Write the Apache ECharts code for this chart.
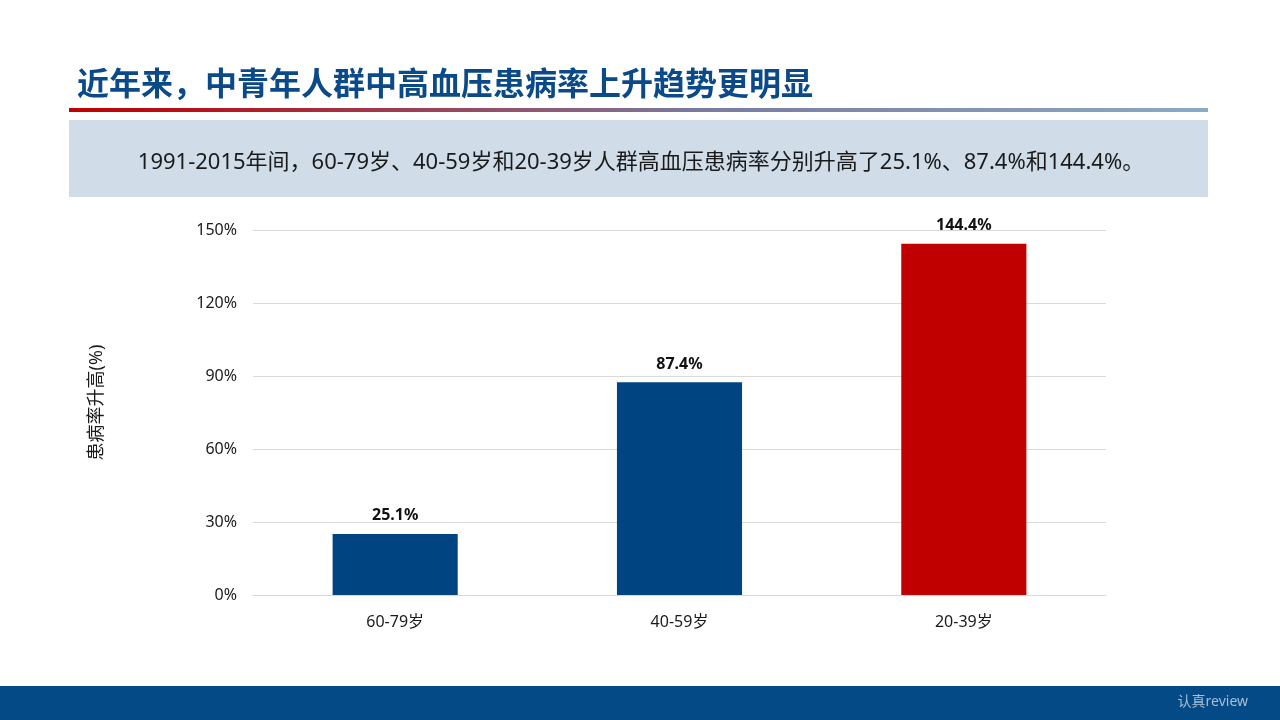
<!DOCTYPE html>
<html>
<head>
<meta charset="utf-8">
<script src="https://cdn.jsdelivr.net/npm/echarts@6/dist/echarts.min.js"></script>
<style>
html, body { margin: 0; padding: 0; background: #fff; }
#main { width: 1280px; height: 720px; }
</style>
</head>
<body>
<div id="main"></div>
<script>
var categories = ['60-79岁', '40-59岁', '20-39岁'];
var riseValues = [25.1, 87.4, 144.4];
var barColors = ['#004481', '#004481', '#c00000'];
var yTicks = { min: 0, max: 150, interval: 30 };

var titleText = '近年来，中青年人群中高血压患病率上升趋势更明显';
var noteText = '1991-2015年间，60-79岁、40-59岁和20-39岁人群高血压患病率分别升高了25.1%、87.4%和144.4%。';
var fontFam = '"Noto Sans", "Noto Sans CJK SC", sans-serif';

var chart = echarts.init(document.getElementById('main'));

var option = {
    backgroundColor: '#fff',
    textStyle: { fontFamily: fontFam },
    grid: {
        left: 253,
        right: 174,
        top: 230,
        bottom: 125
    },
    graphic: [
        {
            type: 'text',
            left: 77,
            top: 70,
            style: {
                text: titleText,
                fill: '#0b4a88',
                font: 'bold 32px ' + fontFam
            }
        },
        {
            type: 'rect',
            shape: { x: 69, y: 108, width: 1139, height: 4 },
            style: {
                fill: new echarts.graphic.LinearGradient(0, 0, 1, 0, [
                    { offset: 0, color: '#c00000' },
                    { offset: 0.1, color: '#b81018' },
                    { offset: 0.55, color: '#7a7aa0' },
                    { offset: 1, color: '#8aaac8' }
                ])
            }
        },
        {
            type: 'rect',
            shape: { x: 69, y: 120, width: 1139, height: 77 },
            style: { fill: '#d0dde9' }
        },
        {
            type: 'text',
            x: 641,
            y: 163,
            style: {
                text: noteText,
                fill: '#1a1a1a',
                font: '22px ' + fontFam,
                align: 'center',
                verticalAlign: 'middle'
            }
        },
        {
            type: 'rect',
            shape: { x: 0, y: 686, width: 1280, height: 34 },
            style: { fill: '#034a86' }
        },
        {
            type: 'text',
            x: 1248,
            y: 702,
            style: {
                text: '认真review',
                fill: '#a9bfd8',
                font: '14px ' + fontFam,
                align: 'right',
                verticalAlign: 'middle'
            }
        }
    ],
    xAxis: {
        type: 'category',
        data: categories,
        axisLine: { lineStyle: { color: '#d9d9d9' } },
        axisTick: { show: false },
        axisLabel: {
            color: '#1a1a1a',
            fontSize: 16,
            margin: 19
        }
    },
    yAxis: {
        type: 'value',
        min: yTicks.min,
        max: yTicks.max,
        interval: yTicks.interval,
        name: '患病率升高(%)',
        nameLocation: 'middle',
        nameGap: 147,
        nameTextStyle: { color: '#1a1a1a', fontSize: 18, padding: [0, 0, 0, 20] },
        axisLine: { show: false },
        axisTick: { show: false },
        axisLabel: {
            color: '#1a1a1a',
            fontSize: 16,
            margin: 16,
            formatter: '{value}%'
        },
        splitLine: { lineStyle: { color: '#d9d9d9' } }
    },
    series: [{
        type: 'bar',
        barWidth: '44%',
        data: riseValues.map(function (v, i) {
            return { value: v, itemStyle: { color: barColors[i] } };
        }),
        label: {
            show: true,
            position: 'top',
            distance: 10,
            color: '#111',
            fontSize: 16,
            fontWeight: 'bold',
            formatter: '{c}%'
        }
    }]
};

chart.setOption(option);
</script>
</body>
</html>
